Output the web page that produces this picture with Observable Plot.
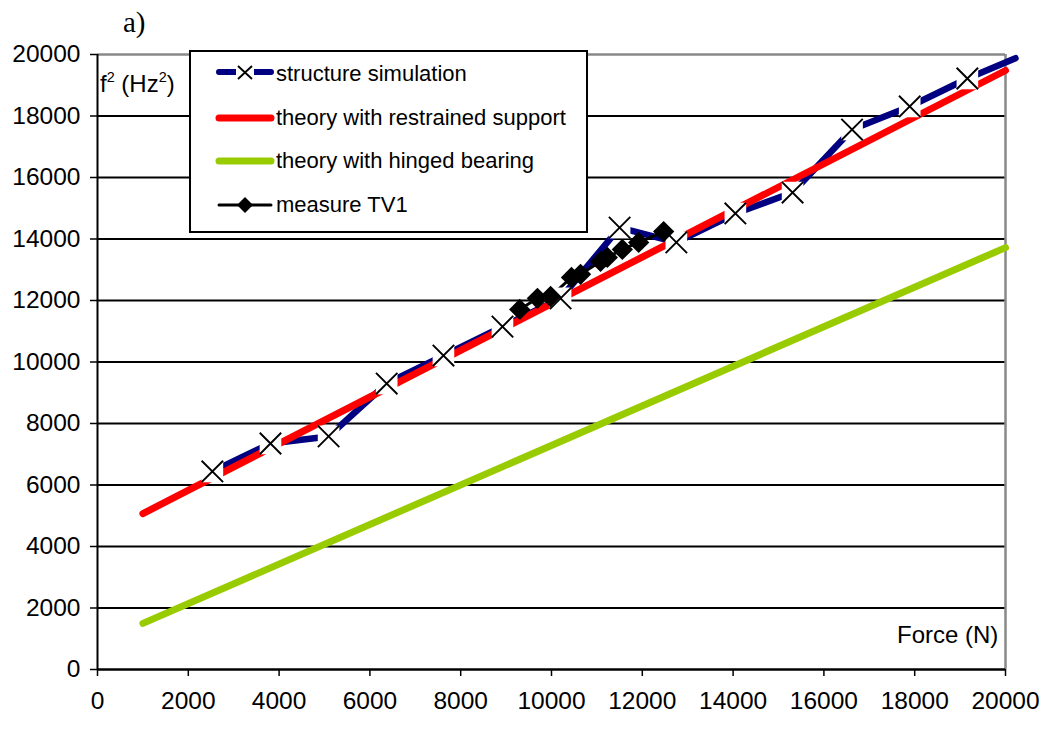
<!DOCTYPE html>
<html>
<head>
<meta charset="utf-8">
<script src="https://cdn.jsdelivr.net/npm/d3@7"></script>
<script src="https://cdn.jsdelivr.net/npm/@observablehq/plot@0.6"></script>
<style>
  body { margin: 0; background: #fff; font-family: "Liberation Sans", Arial, sans-serif; }
  #wrap { position: relative; width: 1045px; height: 729px; overflow: hidden; }
  .lbl { position: absolute; color: #000; white-space: nowrap; }
  .lbl sup { font-size: 60%; vertical-align: 0.7em; line-height: 0; }
  #legend { position: absolute; left: 189px; top: 50px; width: 395px; height: 179px;
            border: 2px solid #000; background: #fff; }
  .row { position: absolute; left: 24px; height: 30px; display: flex; align-items: center; font-size: 22px; }
  .row svg { margin-right: 1px; }
</style>
</head>
<body>
<div id="wrap"></div>
<script>
// ---- data ----
const simForce = [2530, 3810, 5090, 6370, 7620, 8920, 10200, 11500, 12750, 14050, 15310, 16620, 17890, 19160, 20220];
const simF2    = [6440, 7350, 7580, 9300, 10210, 11150, 12070, 14370, 13890, 14830, 15510, 17560, 18310, 19220, 19880];
const restrainedForce = [1000, 20000];
const restrainedF2    = [5070, 19480];
const hingedForce = [1000, 20000];
const hingedF2    = [1500, 13720];
const measureForce = [9300, 9690, 9980, 10440, 10640, 11080, 11230, 11560, 11920, 12470];
const measureF2    = [11710, 12070, 12130, 12750, 12850, 13270, 13400, 13660, 13890, 14240];
const xTicks = [0, 2000, 4000, 6000, 8000, 10000, 12000, 14000, 16000, 18000, 20000];
const yTicks = [0, 2000, 4000, 6000, 8000, 10000, 12000, 14000, 16000, 18000, 20000];
const seriesNames = ["structure simulation", "theory with restrained support", "theory with hinged bearing", "measure TV1"];
const seriesColors = ["#000080", "#ff0000", "#99cc00", "#000000"];

const zip = (xs, ys) => xs.map((x, i) => ({x, y: ys[i]}));
const sim = zip(simForce, simF2);
const simMarkers = sim.filter(d => d.x <= 20000);
const restrained = zip(restrainedForce, restrainedF2);
const hinged = zip(hingedForce, hingedF2);
const measure = zip(measureForce, measureF2);

const chart = Plot.plot({
  width: 1045,
  height: 729,
  marginLeft: 97,
  marginRight: 40,
  marginTop: 54,
  marginBottom: 60,
  style: {fontFamily: '"Liberation Sans", Arial, sans-serif', fontSize: "24px", color: "#000", background: "#fff", overflow: "visible"},
  x: {domain: [0, 20000]},
  y: {domain: [0, 20000]},
  marks: [
    Plot.ruleY(yTicks.filter(d => d > 0 && d < 20000), {stroke: "#000", strokeWidth: 2}),
    Plot.ruleY([20000], {stroke: "#888", strokeWidth: 2.5}),
    Plot.ruleX([20000], {stroke: "#888", strokeWidth: 2.5}),
    Plot.axisX({ticks: xTicks, tickFormat: d => String(d), tickSize: 7, tickPadding: 15, label: null, fontSize: 24.5, strokeWidth: 1.5}),
    Plot.axisY({ticks: yTicks, tickFormat: d => String(d), tickSize: 7, tickPadding: 10, label: null, fontSize: 24.5, strokeWidth: 1.5}),
    Plot.ruleX([0], {stroke: "#000", strokeWidth: 2}),
    Plot.ruleY([0], {stroke: "#000", strokeWidth: 2.5}),
    Plot.line(sim, {x: "x", y: "y", stroke: seriesColors[0], strokeWidth: 6.5}),
    Plot.line(restrained, {x: "x", y: "y", stroke: seriesColors[1], strokeWidth: 7, strokeLinecap: "round"}),
    Plot.line(hinged, {x: "x", y: "y", stroke: seriesColors[2], strokeWidth: 7, strokeLinecap: "round"}),
    Plot.line(measure, {x: "x", y: "y", stroke: seriesColors[3], strokeWidth: 3}),
    Plot.dot(simMarkers, {x: "x", y: "y", symbol: "square", r: 12.2, fill: "#fff", stroke: "none"}),
    Plot.dot(simMarkers, {x: "x", y: "y", symbol: "times", r: 9.8, stroke: "#000", strokeWidth: 1.9, fill: "none"}),
    Plot.dot(measure, {x: "x", y: "y", symbol: "diamond2", r: 9.6, fill: "#000", stroke: "none"})
  ]
});

const wrap = document.getElementById("wrap");
wrap.appendChild(chart);

function addLabel(html, left, top, css) {
  const d = document.createElement("div");
  d.className = "lbl";
  d.innerHTML = html;
  d.style.left = left + "px";
  d.style.top = top + "px";
  Object.assign(d.style, css || {});
  wrap.appendChild(d);
}
addLabel("a)", 123, 6, {fontFamily: '"Liberation Serif", "Times New Roman", serif', fontSize: "29px"});
addLabel("f<sup>2</sup> (Hz<sup>2</sup>)", 100, 70, {fontSize: "24px"});
addLabel("Force (N)", 897, 621, {fontSize: "24px"});

// legend
const legend = document.createElement("div");
legend.id = "legend";
wrap.appendChild(legend);
const rowTops = [7, 51, 94, 138];
const ns = "http://www.w3.org/2000/svg";
seriesNames.forEach((name, i) => {
  const row = document.createElement("div");
  row.className = "row";
  row.style.top = rowTops[i] + "px";
  const svg = document.createElementNS(ns, "svg");
  svg.setAttribute("width", 60); svg.setAttribute("height", 30);
  let inner = "";
  if (i === 0) {
    inner = `<line x1="4" y1="13" x2="56" y2="13" stroke="${seriesColors[0]}" stroke-width="6" stroke-linecap="round"/>
             <rect x="21" y="5" width="18" height="17" fill="#fff"/>
             <path d="M23,7L37,20M23,20L37,7" stroke="#000" stroke-width="1.9"/>`;
  } else if (i === 3) {
    inner = `<line x1="4" y1="15" x2="56" y2="15" stroke="#000" stroke-width="3" stroke-linecap="round"/>
             <path d="M30,7L38,15L30,23L22,15Z" fill="#000"/>`;
  } else {
    inner = `<line x1="4" y1="15" x2="56" y2="15" stroke="${seriesColors[i]}" stroke-width="7" stroke-linecap="round"/>`;
  }
  svg.innerHTML = inner;
  row.appendChild(svg);
  const t = document.createElement("span");
  t.textContent = name;
  row.appendChild(t);
  legend.appendChild(row);
});
</script>
</body>
</html>
